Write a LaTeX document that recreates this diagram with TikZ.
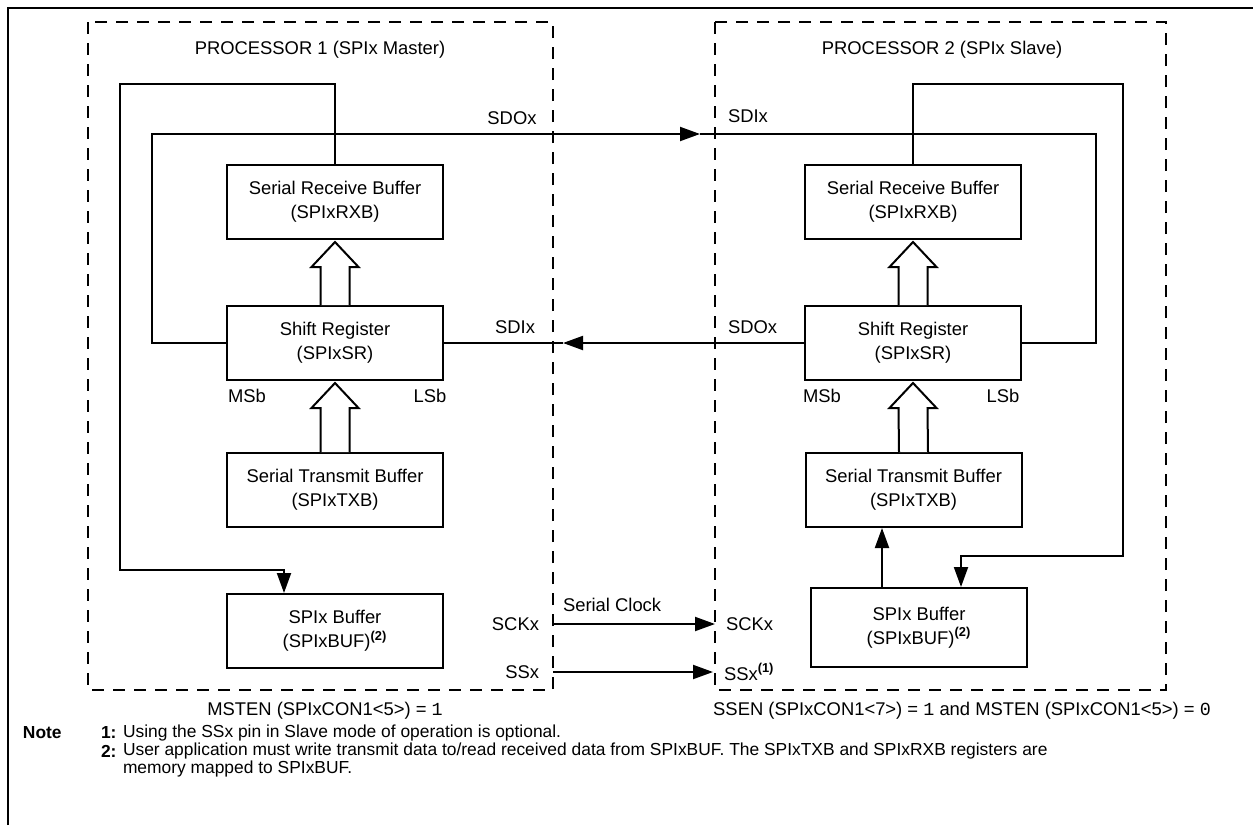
\documentclass[tikz,border=0pt]{standalone}
\usepackage{fontspec}
\setmainfont{Liberation Sans}
\newfontfamily\monofont{Liberation Mono}
\usepackage{tikz}
\usetikzlibrary{arrows.meta}
\usetikzlibrary{calc}

\begin{document}
\begin{tikzpicture}[x=0.5pt,y=-0.5pt,
  >={Triangle[length=10pt,width=7pt]},line width=1pt,
  font=\fontsize{9.2}{12}\selectfont,
  reg/.style={draw,rectangle,minimum width=108pt,minimum height=37pt,align=center,inner sep=0pt},
  proc/.style={draw,dash pattern=on 6pt off 4.5pt},
  hollow/.style={fill=white},
  lbl/.style={inner sep=0pt},
  note/.style={inner sep=0pt,anchor=west,font=\fontsize{8.7}{10}\selectfont}]

  \useasboundingbox (0,0) rectangle (1253,825);
  \draw[line width=1.2pt] (8,825) -- (8,8) -- (1253,8);

  % the two processors
  \draw[proc] (88,22) rectangle (553,690);
  \draw[proc] (715,22) rectangle (1166,690);
  \node [lbl] (p1) at (320,50) {PROCESSOR 1 (SPIx Master)};
  \node [lbl] (p2) at (942,50) {PROCESSOR 2 (SPIx Slave)};

  % master
  \node [reg] (r1) at (335,202) {Serial Receive Buffer\\(SPIxRXB)};
  \node [reg] (s1) at (335,343) {Shift Register\\(SPIxSR)};
  \node [reg] (t1) at (335,490) {Serial Transmit Buffer\\(SPIxTXB)};
  \node [reg] (b1) at (335,631) {SPIx Buffer\\(SPIxBUF)\textsuperscript{\textbf{(2)}}};

  % slave
  \node [reg] (r2) at (913,202) {Serial Receive Buffer\\(SPIxRXB)};
  \node [reg] (s2) at (913,343) {Shift Register\\(SPIxSR)};
  \node [reg] (t2) at (913.5,490) {Serial Transmit Buffer\\(SPIxTXB)};
  \node [reg,minimum height=39.5pt] (b2) at (919,627.5) {SPIx Buffer\\(SPIxBUF)\textsuperscript{\textbf{(2)}}};

  \foreach \a/\b in {r1/s1,s1/t1,r2/s2,s2/t2}
    \draw[hollow] ($(\b.north)+(-14.5,0)$) -- ($(\a.south)+(-14.5,27)$) -- ++(-9,0)
      -- ($(\a.south)+(0,2)$) -- ++(23.5,25) -- ++(-9,0) -- ($(\b.north)+(14.5,0)$);

  \node [lbl] (msb1) at (247,396) {MSb};
  \node [lbl] (lsb1) at (430,396) {LSb};
  \node [lbl] (msb2) at (822,396) {MSb};
  \node [lbl] (lsb2) at (1003,396) {LSb};

  % loops
  \coordinate (lt1) at (120,84);
  \coordinate (lb1) at (120,570);
  \draw[->] (r1.north) |- (lt1) -- (lb1) -| ($(b1.north)+(-51,0)$);
  \coordinate (rt2) at (1123,84);
  \coordinate (rb2) at (1123,556);
  \draw[->] (r2.north) |- (rt2) -- (rb2) -| ($(b2.north)+(42,0)$);
  \draw[->] ($(b2.north)+(-37,0)$) -- ($(t2.south)+(-31.5,0)$);

  % data lines
  \coordinate (il1) at (152,134);
  \coordinate (sdo1) at (700,134);
  \coordinate (ir2) at (1096,343);
  \draw[->] (s1.west) -| (il1) -- (sdo1);
  \draw (sdo1) -| (ir2) -- (s2.east);
  \coordinate (sdi1) at (563,343);
  \draw[->] (s2.west) -- (sdi1);
  \draw (sdi1) -- (s1.east);

  \node [lbl] (lsdo1) at (512,118) {SDOx};
  \node [lbl,anchor=west] (lsdi2) at (727,116) {SDIx};
  \node [lbl,anchor=east] (lsdi1) at (536,327) {SDIx};
  \node [lbl,anchor=west] (lsdo2) at (727,327) {SDOx};

  % clock and select
  \coordinate (sck1) at (553,624);
  \coordinate (sck2) at (715,624);
  \draw[->] (sck1) -- (sck2);
  \coordinate (ss1) at (553,672);
  \coordinate (ss2) at (713,672);
  \draw[->] (ss1) -- (ss2);
  \node [lbl,anchor=west] (clk) at (562,605) {Serial Clock};
  \node [lbl,anchor=east] (lsck1) at (540,624) {SCKx};
  \node [lbl,anchor=west] (lsck2) at (725,624) {SCKx};
  \node [lbl,anchor=east] (lss1) at (540,672) {SSx};
  \node [lbl,anchor=west] (lss2) at (723,672) {SSx\textsuperscript{\textbf{(1)}}};

  \node [lbl] (m1) at (325,711) {MSTEN (SPIxCON1<5>) = {\monofont 1}};
  \node [lbl] (m2) at (962,711) {SSEN (SPIxCON1<7>) = {\monofont 1} and MSTEN (SPIxCON1<5>) = {\monofont 0}};

  % notes
  \node [note] (nt) at (22,733) {\textbf{Note}};
  \node [note] (n1) at (100,733) {\textbf{1:}};
  \node [note] (n1t) at (122,733) {Using the SSx pin in Slave mode of operation is optional.};
  \node [note] (n2) at (100,751) {\textbf{2:}};
  \node [note] (n2t) at (122,751) {User application must write transmit data to/read received data from SPIxBUF. The SPIxTXB and SPIxRXB registers are};
  \node [note] (n3t) at (122,769) {memory mapped to SPIxBUF.};
\end{tikzpicture}
\end{document}
